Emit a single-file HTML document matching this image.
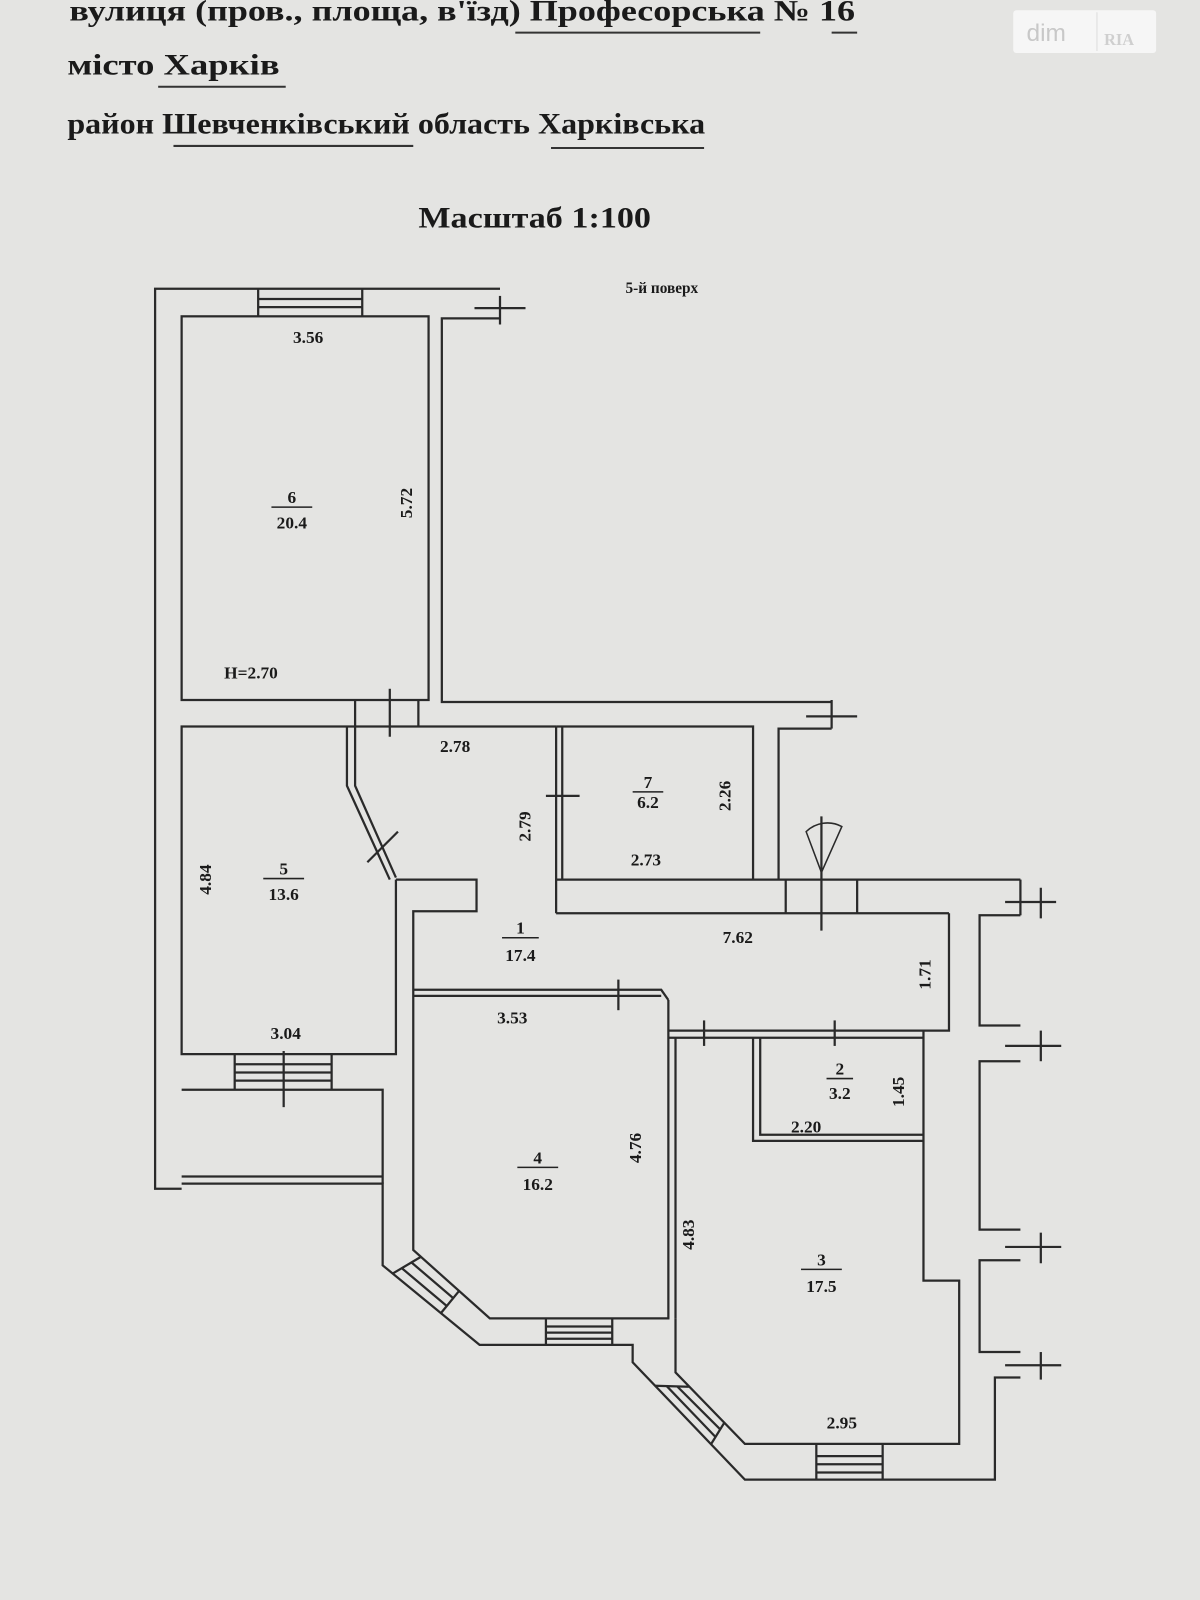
<!DOCTYPE html>
<html><head><meta charset="utf-8"><style>
html,body{margin:0;padding:0;background:#e4e4e2;}
svg{display:block}
text{font-family:"Liberation Serif","DejaVu Serif",serif;font-weight:bold;fill:#1a1a1a}
</style></head><body>
<svg width="1200" height="1600" viewBox="0 0 1176 1568" xmlns="http://www.w3.org/2000/svg">
<rect width="1176" height="1568" fill="#e4e4e2"/>
<!-- header -->
<text x="68" y="20" font-size="29" textLength="770" lengthAdjust="spacingAndGlyphs">вулиця (пров., площа, в'їзд) Професорська  №  16</text>
<line x1="505" y1="32" x2="745" y2="32" stroke="#333" stroke-width="2"/>
<line x1="815" y1="32" x2="840" y2="32" stroke="#333" stroke-width="2"/>
<text x="66" y="73" font-size="29" textLength="208" lengthAdjust="spacingAndGlyphs">місто  Харків</text>
<line x1="155" y1="85" x2="280" y2="85" stroke="#333" stroke-width="2"/>
<text x="66" y="131" font-size="29" textLength="625" lengthAdjust="spacingAndGlyphs">район  Шевченківський  область  Харківська</text>
<line x1="170" y1="143" x2="405" y2="143" stroke="#333" stroke-width="2"/>
<line x1="540" y1="145" x2="690" y2="145" stroke="#333" stroke-width="2"/>
<text x="410" y="223" font-size="29" textLength="228" lengthAdjust="spacingAndGlyphs">Масштаб 1:100</text>
<text x="613" y="287" font-size="15">5-й поверх</text>
<!-- logo -->
<rect x="993" y="10" width="140" height="42" rx="3" fill="#f6f6f6"/>
<line x1="1075" y1="12" x2="1075" y2="50" stroke="#ddd"/>
<text x="1006" y="40" font-size="24" style="font-family:'Liberation Sans',sans-serif;font-weight:normal;fill:#c8c8c8">dim</text>
<text x="1082" y="44" font-size="16" style="fill:#cfcfcf">RIA</text>

<g fill="none" stroke="#2a2a2a" stroke-width="2.2">
<polyline points="490,283 152,283 152,1165 178,1165"/>
<rect x="178" y="310" width="242" height="376"/>
<polyline points="490,312 433,312 433,688 815,688"/>
<line x1="490" y1="290" x2="490" y2="318"/><line x1="465" y1="302" x2="515" y2="302"/>
<line x1="815" y1="686" x2="815" y2="714"/><line x1="790" y1="702" x2="840" y2="702"/>
<line x1="348" y1="686" x2="348" y2="712"/><line x1="410" y1="686" x2="410" y2="712"/>
<line x1="382" y1="675" x2="382" y2="722"/>
<polyline points="348,712 178,712 178,1033 388,1033 388,862"/>
<polyline points="348,712 348,770 388,860"/>
<polyline points="340,712 340,770 382,862"/>
<line x1="360" y1="845" x2="390" y2="815"/>
<polyline points="348,712 545,712"/>
<polyline points="388,862 467,862 467,893 405,893 405,1225 480,1292 655,1292 655,980"/>
<polyline points="405,970 648,970 655,980"/>
<line x1="405" y1="976" x2="648" y2="976"/>
<line x1="606" y1="960" x2="606" y2="990"/>
<polyline points="545,712 738,712 738,862"/>
<line x1="545" y1="712" x2="545" y2="895"/><line x1="551" y1="712" x2="551" y2="862"/>
<line x1="535" y1="780" x2="568" y2="780"/>
<line x1="545" y1="862" x2="1000" y2="862"/>
<polyline points="815,714 763,714 763,862"/>
<line x1="545" y1="895" x2="930" y2="895"/>
<line x1="770" y1="862" x2="770" y2="895"/><line x1="840" y1="862" x2="840" y2="895"/>
<line x1="805" y1="800" x2="805" y2="912"/>
<path d="M805,855 L790,815 A30,30 0 0 1 825,810 Z" stroke-width="1.5"/>
<polyline points="930,895 930,1010 655,1010"/>
<line x1="655" y1="1017" x2="905" y2="1017"/>
<line x1="690" y1="1000" x2="690" y2="1025"/><line x1="818" y1="1000" x2="818" y2="1025"/>
<polyline points="738,1017 738,1118 905,1118"/>
<polyline points="745,1017 745,1112 905,1112"/>
<polyline points="662,1017 662,1292"/>
<polyline points="905,1010 905,1255 940,1255 940,1415 730,1415 662,1345 662,1292"/>
<polyline points="178,1160 375,1160 375,1240 470,1318 620,1318 620,1335 730,1450 975,1450 975,1420"/>
<line x1="178" y1="1153" x2="375" y2="1153"/>
<polyline points="178,1068 375,1068 375,1160"/>
<line x1="230" y1="1033" x2="230" y2="1068"/><line x1="325" y1="1033" x2="325" y2="1068"/>
<line x1="230" y1="1043" x2="325" y2="1043"/><line x1="230" y1="1051" x2="325" y2="1051"/><line x1="230" y1="1059" x2="325" y2="1059"/>
<line x1="278" y1="1030" x2="278" y2="1085"/>
<line x1="253" y1="283" x2="253" y2="310"/><line x1="355" y1="283" x2="355" y2="310"/>
<line x1="253" y1="293" x2="355" y2="293"/><line x1="253" y1="301" x2="355" y2="301"/>
<line x1="535" y1="1292" x2="535" y2="1318"/><line x1="600" y1="1292" x2="600" y2="1318"/>
<line x1="535" y1="1300" x2="600" y2="1300"/><line x1="535" y1="1306" x2="600" y2="1306"/><line x1="535" y1="1312" x2="600" y2="1312"/>
<!-- diagonal window room4 -->
<line x1="412" y1="1232" x2="385" y2="1248"/><line x1="450" y1="1265" x2="432" y2="1287"/>
<line x1="403" y1="1237" x2="444" y2="1272"/><line x1="394" y1="1243" x2="438" y2="1280"/>
<!-- diagonal window room3 -->
<line x1="675" y1="1359" x2="642" y2="1358"/><line x1="710" y1="1394" x2="697" y2="1415"/>
<line x1="664" y1="1359" x2="706" y2="1401"/><line x1="653" y1="1358" x2="701" y2="1408"/>
<line x1="800" y1="1415" x2="800" y2="1450"/><line x1="865" y1="1415" x2="865" y2="1450"/>
<line x1="800" y1="1427" x2="865" y2="1427"/><line x1="800" y1="1435" x2="865" y2="1435"/><line x1="800" y1="1443" x2="865" y2="1443"/>
<polyline points="1000,897 960,897 960,1005 1000,1005"/>
<polyline points="1000,1040 960,1040 960,1205 1000,1205"/>
<polyline points="1000,1235 960,1235 960,1325 1000,1325"/>
<polyline points="1000,1350 975,1350 975,1420"/>
<line x1="1000" y1="862" x2="1000" y2="897"/>
<line x1="1020" y1="870" x2="1020" y2="900"/><line x1="985" y1="884" x2="1035" y2="884"/>
<line x1="1020" y1="1010" x2="1020" y2="1040"/><line x1="985" y1="1025" x2="1040" y2="1025"/>
<line x1="1020" y1="1208" x2="1020" y2="1238"/><line x1="985" y1="1222" x2="1040" y2="1222"/>
<line x1="1020" y1="1325" x2="1020" y2="1352"/><line x1="985" y1="1338" x2="1040" y2="1338"/>
</g>

<g font-size="17" text-anchor="middle">
<text x="302" y="336">3.56</text>
<text x="286" y="493">6</text><line x1="266" y1="497" x2="306" y2="497" stroke="#222" stroke-width="1.5"/>
<text x="286" y="518">20.4</text>
<text transform="translate(404,493) rotate(-90)">5.72</text>
<text x="246" y="665">H=2.70</text>
<text x="446" y="737">2.78</text>
<text x="635" y="772">7</text><line x1="620" y1="776" x2="650" y2="776" stroke="#222" stroke-width="1.5"/>
<text x="635" y="792">6.2</text>
<text transform="translate(716,780) rotate(-90)">2.26</text>
<text transform="translate(520,810) rotate(-90)">2.79</text>
<text x="633" y="848">2.73</text>
<text transform="translate(207,862) rotate(-90)">4.84</text>
<text x="278" y="857">5</text><line x1="258" y1="861" x2="298" y2="861" stroke="#222" stroke-width="1.5"/>
<text x="278" y="882">13.6</text>
<text x="510" y="915">1</text><line x1="492" y1="919" x2="528" y2="919" stroke="#222" stroke-width="1.5"/>
<text x="510" y="942">17.4</text>
<text x="723" y="924">7.62</text>
<text transform="translate(912,955) rotate(-90)">1.71</text>
<text x="502" y="1003">3.53</text>
<text x="280" y="1018">3.04</text>
<text x="823" y="1053">2</text><line x1="810" y1="1057" x2="836" y2="1057" stroke="#222" stroke-width="1.5"/>
<text x="823" y="1077">3.2</text>
<text transform="translate(886,1070) rotate(-90)">1.45</text>
<text x="790" y="1110">2.20</text>
<text transform="translate(628,1125) rotate(-90)">4.76</text>
<text x="527" y="1140">4</text><line x1="507" y1="1144" x2="547" y2="1144" stroke="#222" stroke-width="1.5"/>
<text x="527" y="1166">16.2</text>
<text transform="translate(680,1210) rotate(-90)">4.83</text>
<text x="805" y="1240">3</text><line x1="785" y1="1244" x2="825" y2="1244" stroke="#222" stroke-width="1.5"/>
<text x="805" y="1266">17.5</text>
<text x="825" y="1400">2.95</text>
</g>
</svg>
</body></html>
